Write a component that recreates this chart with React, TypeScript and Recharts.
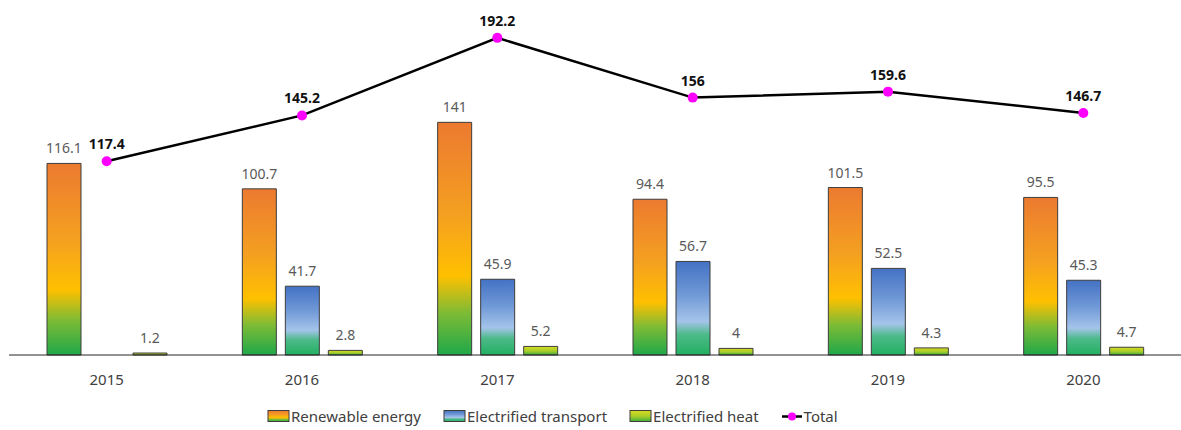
import { Bar, ComposedChart, LabelList, Legend, Line, XAxis, YAxis } from "recharts";

// Annual figures per year; total is drawn as a line over the grouped bars.
const years = ["2015", "2016", "2017", "2018", "2019", "2020"];
const renewable = [116.1, 100.7, 141, 94.4, 101.5, 95.5];
const transport = [null, 41.7, 45.9, 56.7, 52.5, 45.3];
const heat = [1.2, 2.8, 5.2, 4, 4.3, 4.7];
const total = [117.4, 145.2, 192.2, 156, 159.6, 146.7];

const rows = years.map((year, i) => ({
  year,
  renewable: renewable[i],
  transport: transport[i],
  heat: heat[i],
  total: total[i],
}));

const FONT = "'Noto Sans', 'Open Sans', sans-serif";
const BAR_STROKE = "#3d3d3d";

const legendItems = [
  { key: "renewable", label: "Renewable energy", fill: "url(#gRenew)" },
  { key: "transport", label: "Electrified transport", fill: "url(#gTrans)" },
  { key: "heat", label: "Electrified heat", fill: "url(#gHeat)" },
];

function Gradients() {
  return (
    <svg width={0} height={0} style={{ position: "absolute" }}>
      <defs>
        <linearGradient id="gRenew" x1="0" y1="0" x2="0" y2="1">
          <stop offset="0%" stopColor="#ec7a30" />
          <stop offset="40%" stopColor="#f4a020" />
          <stop offset="66%" stopColor="#ffc000" />
          <stop offset="82%" stopColor="#7dbb35" />
          <stop offset="100%" stopColor="#1fa84a" />
        </linearGradient>
        <linearGradient id="gTrans" x1="0" y1="0" x2="0" y2="1">
          <stop offset="0%" stopColor="#4472c4" />
          <stop offset="35%" stopColor="#6f98d6" />
          <stop offset="64%" stopColor="#a4c4ea" />
          <stop offset="78%" stopColor="#4dba8a" />
          <stop offset="100%" stopColor="#22b060" />
        </linearGradient>
        <linearGradient id="gHeat" x1="0" y1="0" x2="0" y2="1">
          <stop offset="0%" stopColor="#d8dc1c" />
          <stop offset="55%" stopColor="#a6cc2c" />
          <stop offset="100%" stopColor="#3cae3a" />
        </linearGradient>
      </defs>
    </svg>
  );
}

function ChartLegend() {
  return (
    <div
      style={{
        height: 32,
        display: "flex",
        alignItems: "center",
        paddingLeft: 258,
        paddingTop: 4,
        boxSizing: "border-box",
        fontFamily: FONT,
        fontSize: 15,
        color: "#404040",
      }}
    >
      {legendItems.map((it) => (
        <div key={it.key} style={{ display: "flex", alignItems: "center", marginRight: 22 }}>
          <svg width={23} height={14} style={{ marginRight: 1 }}>
            <rect x={1} y={1.5} width={21} height={11} fill={it.fill} stroke={BAR_STROKE} strokeWidth={1} />
          </svg>
          <span>{it.label}</span>
        </div>
      ))}
      <div style={{ display: "flex", alignItems: "center" }}>
        <svg width={22} height={13} style={{ marginRight: 1 }}>
          <line x1={1} y1={6.5} x2={21} y2={6.5} stroke="#000" strokeWidth={2.5} />
          <circle cx={11} cy={6.5} r={4} fill="#ff00ff" />
        </svg>
        <span>Total</span>
      </div>
    </div>
  );
}

export default function App() {
  return (
    <div style={{ position: "absolute", left: 0, top: 0 }}>
      <Gradients />
      <ComposedChart
        width={1181}
        height={430}
        data={rows}
        margin={{ top: 25, right: 0, left: 9, bottom: 0 }}
        barSize={34}
        barGap={9}
      >
        <XAxis
          dataKey="year"
          height={43}
          tickLine={false}
          axisLine={{ stroke: "#262626", strokeWidth: 1.2 }}
          tick={{ fill: "#404040", fontSize: 15, fontFamily: FONT }}
          tickMargin={13}
        />
        <YAxis hide domain={[0, 200]} />
        <Legend verticalAlign="bottom" content={<ChartLegend />} />
        <Bar dataKey="renewable" fill="url(#gRenew)" stroke={BAR_STROKE} strokeWidth={1} isAnimationActive={false}>
          <LabelList dataKey="renewable" position="top" offset={10} fill="#595959" fontSize={14} fontFamily={FONT} />
        </Bar>
        <Bar dataKey="transport" fill="url(#gTrans)" stroke={BAR_STROKE} strokeWidth={1} isAnimationActive={false}>
          <LabelList dataKey="transport" position="top" offset={10} fill="#595959" fontSize={14} fontFamily={FONT} />
        </Bar>
        <Bar dataKey="heat" fill="url(#gHeat)" stroke={BAR_STROKE} strokeWidth={1} isAnimationActive={false}>
          <LabelList dataKey="heat" position="top" offset={10} fill="#595959" fontSize={14} fontFamily={FONT} />
        </Bar>
        <Line
          dataKey="total"
          type="linear"
          stroke="#000"
          strokeWidth={2.5}
          dot={{ r: 5, fill: "#ff00ff", stroke: "none" }}
          activeDot={false}
          isAnimationActive={false}
        >
          <LabelList
            dataKey="total"
            position="top"
            offset={12}
            fill="#111"
            fontSize={14}
            fontWeight="bold"
            fontFamily={FONT}
          />
        </Line>
      </ComposedChart>
    </div>
  );
}
